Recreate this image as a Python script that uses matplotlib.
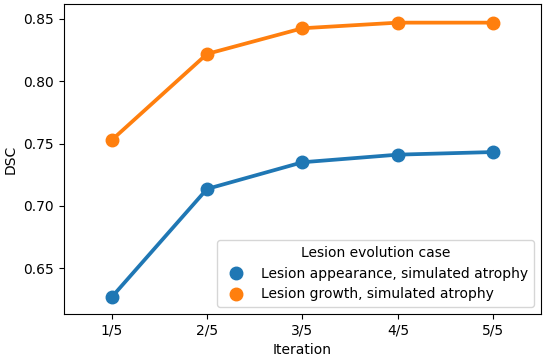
import matplotlib
matplotlib.use("Agg")
import matplotlib.pyplot as plt
from matplotlib.lines import Line2D

iterations = ["1/5", "2/5", "3/5", "4/5", "5/5"]
appearance = [0.6267, 0.7136, 0.7350, 0.7411, 0.7432]
growth = [0.7527, 0.8219, 0.8425, 0.8470, 0.8470]
series_names = ["Lesion appearance, simulated atrophy", "Lesion growth, simulated atrophy"]
colors = ["#1f77b4", "#ff7f0e"]

fig = plt.figure(figsize=(5.46, 3.58), dpi=100)
ax = fig.add_axes([0.117, 0.123, 0.874, 0.866])

handles = []
for vals, name, c in zip([appearance, growth], series_names, colors):
    ax.plot(iterations, vals, color=c, linewidth=2.7, marker="o", markersize=9, zorder=3)
    handles.append(Line2D([], [], color=c, marker="o", linestyle="none", markersize=9, label=name))

ax.set_xlim(-0.5, 4.5)
ax.set_ylim(0.6133, 0.862)
ax.set_yticks([0.65, 0.70, 0.75, 0.80, 0.85])
ax.set_xlabel("Iteration")
ax.set_ylabel("DSC")
ax.legend(handles=handles, title="Lesion evolution case", loc="lower right")

fig.savefig("out.png", dpi=100)
